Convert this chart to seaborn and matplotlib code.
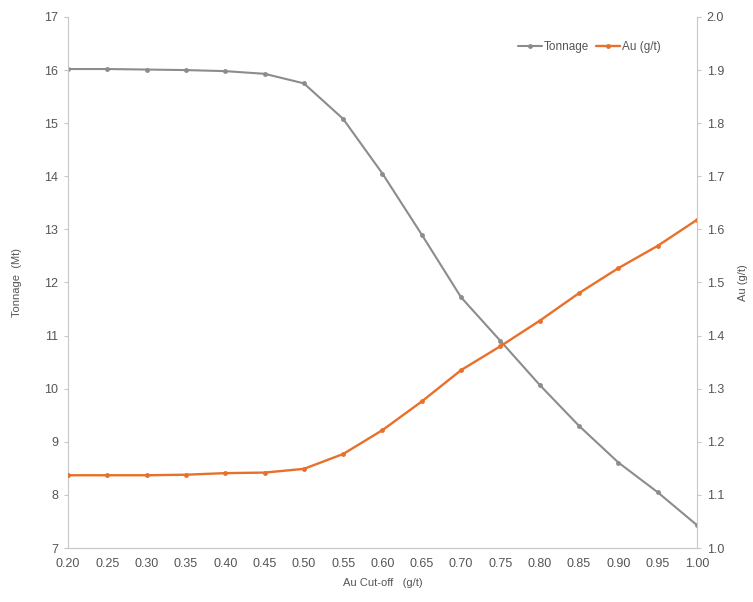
import matplotlib.pyplot as plt
import seaborn as sns
import pandas as pd

# Grade-tonnage curve values
cutoff = [0.20, 0.25, 0.30, 0.35, 0.40, 0.45, 0.50, 0.55, 0.60,
          0.65, 0.70, 0.75, 0.80, 0.85, 0.90, 0.95, 1.00]
tonnage = [16.02, 16.02, 16.01, 16.00, 15.98, 15.93, 15.75, 15.08, 14.05,
           12.90, 11.72, 10.90, 10.07, 9.30, 8.61, 8.05, 7.43]
au_grade = [1.137, 1.137, 1.137, 1.138, 1.141, 1.142, 1.149, 1.177, 1.222,
            1.276, 1.335, 1.380, 1.428, 1.480, 1.527, 1.569, 1.618]
x_ticks = [0.20, 0.25, 0.30, 0.35, 0.40, 0.45, 0.50, 0.55, 0.60,
           0.65, 0.70, 0.75, 0.80, 0.85, 0.90, 0.95, 1.00]

df = pd.DataFrame({"cutoff": cutoff, "tonnage": tonnage, "au": au_grade})

sns.set_style("white")
plt.rcParams['font.family'] = ['Liberation Sans', 'DejaVu Sans']

gray = "#8c8c8c"
orange = "#e8702a"
text_col = "#555555"
spine_col = "#c8c8c8"

fig = plt.figure(figsize=(7.53, 6.02), dpi=100)
ax = fig.add_axes([0.0903, 0.0897, 0.8353, 0.8821])
ax2 = ax.twinx()

sns.lineplot(data=df, x="cutoff", y="tonnage", ax=ax, color=gray, lw=1.5,
             marker="o", markersize=3.5, markeredgewidth=0, label="Tonnage",
             legend=False)
sns.lineplot(data=df, x="cutoff", y="au", ax=ax2, color=orange, lw=1.7,
             marker="o", markersize=3.5, markeredgewidth=0, label="Au (g/t)",
             legend=False)

ax.set_xlim(0.20, 1.00)
ax.set_ylim(7, 17)
ax2.set_ylim(1.0, 2.0)
ax.set_xticks(x_ticks)
ax.set_xticklabels([f"{v:.2f}" for v in x_ticks])
ax.set_yticks(range(7, 18))
ax2.set_yticks([1.0 + 0.1 * i for i in range(11)])
ax2.set_yticklabels([f"{1.0 + 0.1 * i:.1f}" for i in range(11)])

for a in (ax, ax2):
    a.spines["top"].set_visible(False)
    for s in ("left", "right", "bottom"):
        a.spines[s].set_color(spine_col)
    a.tick_params(colors=text_col, labelsize=9, length=3, width=0.8, pad=4)
    a.tick_params(axis="both", color=spine_col)
ax.spines["right"].set_visible(False)
ax2.spines["left"].set_visible(False)

ax.set_xlabel("Au Cut-off   (g/t)", color=text_col, fontsize=8, labelpad=6)
ax.set_ylabel("Tonnage  (Mt)", color=text_col, fontsize=8, labelpad=16)
ax2.set_ylabel("Au (g/t)", color=text_col, fontsize=8, labelpad=10)

h1, l1 = ax.get_legend_handles_labels()
h2, l2 = ax2.get_legend_handles_labels()
ax2.legend(h1 + h2, l1 + l2, loc="upper right", bbox_to_anchor=(0.96, 0.975),
           ncol=2, frameon=False, fontsize=8.5, handlelength=2.0,
           handletextpad=0.2, columnspacing=0.6, labelcolor=text_col)

fig.savefig("out.png", dpi=100)
